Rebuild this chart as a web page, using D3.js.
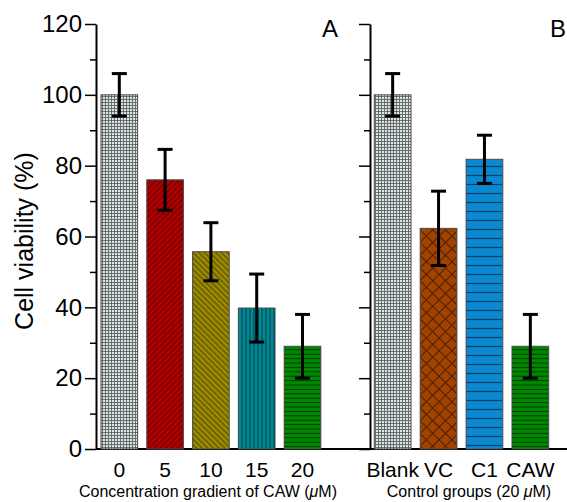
<!DOCTYPE html>
<html>
<head>
<meta charset="utf-8">
<script src="https://cdn.jsdelivr.net/npm/d3@7"></script>
<style>
  body { margin: 0; background: #fff; }
  svg { font-family: "Liberation Sans", Arial, sans-serif; }
</style>
</head>
<body>
<svg width="567" height="502"></svg>
<script>
// panel A: concentration gradient
const concLabels = ["0", "5", "10", "15", "20"];
const concMeans = [100, 76, 55.7, 39.8, 29];
const concErr = [6, 8.6, 8.2, 9.6, 9];
const concPatterns = ["grid", "red", "olive", "teal", "green"];

// panel B: control groups
const ctrlLabels = ["Blank", "VC", "C1", "CAW"];
const ctrlMeans = [100, 62.3, 81.8, 29];
const ctrlErr = [6, 10.5, 6.8, 9];
const ctrlPatterns = ["grid", "brown", "blue", "green"];

const yTicks = [0, 20, 40, 60, 80, 100, 120];
const yMinor = [10, 30, 50, 70, 90, 110];

const svg = d3.select("svg");
const defs = svg.append("defs");

// fill patterns
function addPattern(id, w, h, bg, paths, stroke, sw, transform) {
  const p = defs.append("pattern")
      .attr("id", id)
      .attr("patternUnits", "userSpaceOnUse")
      .attr("width", w)
      .attr("height", h);
  if (transform) p.attr("patternTransform", transform);
  p.append("rect").attr("width", w).attr("height", h).attr("fill", bg);
  p.append("path")
      .attr("d", paths)
      .attr("stroke", stroke)
      .attr("stroke-width", sw)
      .attr("fill", "none");
}
addPattern("grid", 3, 3, "#dde6e6", "M0,0.5H3M0.5,0V3", "#5c6262", 0.9);
addPattern("red", 4, 4, "#b40000", "M2,0V4", "#5a0000", 1.1, "rotate(45)");
addPattern("olive", 4, 4, "#a08e00", "M2,0V4", "#4a4000", 1.1, "rotate(-45)");
addPattern("teal", 4, 4, "#008a96", "M2,0V4", "#00434a", 1.1);
addPattern("green", 4.4, 4.4, "#008a00", "M0,2.2H4.4", "#003a00", 1.1);
addPattern("brown", 9, 9, "#a04200", "M0,0.5H9M0.5,0V9", "#4e2000", 1, "rotate(45)");
addPattern("blue", 9, 9, "#0a88d0", "M0,4.5H9", "#0b3d66", 1.2);

const y = d3.scaleLinear()
    .domain([0, 120])
    .range([449, 24]);

const xA = d3.scaleBand()
    .domain(concLabels)
    .range([96.4, 325.4])
    .paddingInner(0.2)
    .paddingOuter(0.1);

const xB = d3.scaleBand()
    .domain(ctrlLabels)
    .range([369.7, 553.3])
    .paddingInner(0.2)
    .paddingOuter(0.1);

// baseline across both panels
svg.append("line")
    .attr("x1", 96).attr("x2", 567)
    .attr("y1", y(0)).attr("y2", y(0))
    .attr("stroke", "#000")
    .attr("stroke-width", 2);

function drawYAxis(xPos, withLabels) {
  const major = svg.append("g")
      .attr("transform", "translate(" + xPos + ",0)")
      .call(d3.axisLeft(y)
        .tickValues(yTicks)
        .tickSize(11)
        .tickSizeOuter(0)
        .tickFormat(withLabels ? d3.format("d") : ""));
  major.select(".domain").attr("stroke-width", 2);
  major.selectAll(".tick line").attr("stroke-width", 1.5);
  major.selectAll(".tick text")
      .attr("font-size", 24)
      .attr("font-family", "Liberation Sans, Arial, sans-serif")
      .attr("fill", "#000");

  const minor = svg.append("g")
      .attr("transform", "translate(" + xPos + ",0)")
      .call(d3.axisLeft(y).tickValues(yMinor).tickSize(6).tickFormat(""));
  minor.select(".domain").remove();
  minor.selectAll(".tick line").attr("stroke-width", 1.5);
}
drawYAxis(96, true);
drawYAxis(370, false);

function drawPanel(x, labels, means, errs, pats) {
  const g = svg.append("g");
  g.selectAll("rect.bar")
    .data(labels)
    .join("rect")
      .attr("class", "bar")
      .attr("x", d => x(d))
      .attr("width", x.bandwidth())
      .attr("y", (d, i) => y(means[i]))
      .attr("height", (d, i) => y(0) - y(means[i]))
      .attr("fill", (d, i) => "url(#" + pats[i] + ")")
      .attr("stroke", "#4a4a4a")
      .attr("stroke-width", 1);

  const err = g.selectAll("g.err")
    .data(labels)
    .join("g")
      .attr("class", "err")
      .attr("stroke", "#000")
      .attr("stroke-width", 3);
  const cx = d => x(d) + x.bandwidth() / 2;
  err.append("line")
      .attr("x1", cx).attr("x2", cx)
      .attr("y1", (d, i) => y(means[i] + errs[i]))
      .attr("y2", (d, i) => y(means[i] - errs[i]));
  err.append("line")
      .attr("x1", d => cx(d) - 7.5).attr("x2", d => cx(d) + 7.5)
      .attr("y1", (d, i) => y(means[i] + errs[i]))
      .attr("y2", (d, i) => y(means[i] + errs[i]));
  err.append("line")
      .attr("x1", d => cx(d) - 7.5).attr("x2", d => cx(d) + 7.5)
      .attr("y1", (d, i) => y(means[i] - errs[i]))
      .attr("y2", (d, i) => y(means[i] - errs[i]));

  const ax = svg.append("g")
      .attr("transform", "translate(0," + y(0) + ")")
      .call(d3.axisBottom(x).tickSize(0).tickPadding(13));
  ax.select(".domain").remove();
  ax.selectAll(".tick text")
      .attr("font-size", 21)
      .attr("font-family", "Liberation Sans, Arial, sans-serif")
      .attr("fill", "#000");
}
drawPanel(xA, concLabels, concMeans, concErr, concPatterns);
drawPanel(xB, ctrlLabels, ctrlMeans, ctrlErr, ctrlPatterns);

// y axis title
svg.append("text")
    .attr("transform", "translate(33,241) rotate(-90)")
    .attr("text-anchor", "middle")
    .attr("font-size", 25)
    .text("Cell viability (%)");

// panel letters
svg.append("text").attr("x", 322).attr("y", 37).attr("font-size", 24).text("A");
svg.append("text").attr("x", 550).attr("y", 37).attr("font-size", 24).text("B");

// x axis titles
const titleA = svg.append("text")
    .attr("x", 208).attr("y", 497)
    .attr("text-anchor", "middle")
    .attr("font-size", 16);
titleA.append("tspan").text("Concentration gradient of CAW (");
titleA.append("tspan").attr("font-style", "italic").text("\u03bc");
titleA.append("tspan").text("M)");

const titleB = svg.append("text")
    .attr("x", 469).attr("y", 497)
    .attr("text-anchor", "middle")
    .attr("font-size", 16);
titleB.append("tspan").text("Control groups (20 ");
titleB.append("tspan").attr("font-style", "italic").text("\u03bc");
titleB.append("tspan").text("M)");
</script>
</body>
</html>
